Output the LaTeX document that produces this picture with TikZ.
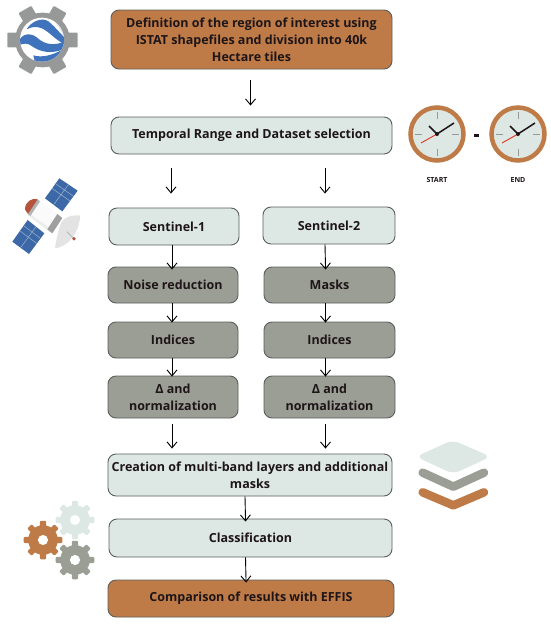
\documentclass[tikz,border=0pt]{standalone}
\usepackage{fontspec}
\setmainfont{Open Sans}
\usetikzlibrary{arrows.meta,calc}
\definecolor{rust}{HTML}{BF7B47}
\definecolor{pale}{HTML}{DDE7E3}
\definecolor{sage}{HTML}{9B9E94}
\definecolor{edge}{HTML}{5A5F5C}
\definecolor{ink}{HTML}{1D1518}
\definecolor{gearg}{HTML}{979898}
\definecolor{eblue}{HTML}{3F74BC}
\definecolor{panel}{HTML}{3D68A8}
\definecolor{capred}{HTML}{B5533C}
\newcommand{\mycog}[7]{% x,y,radius,teeth,colour,hole,tooth half-angle
  \begin{scope}[shift={(#1,#2)}]
    \fill[#5] (0,0) circle ({#3*0.76});
    \foreach \k in {1,...,#4}{
      \pgfmathsetmacro{\ang}{360/#4*\k}
      \fill[#5,rounded corners=1pt,rotate=\ang] ({-#7}:{#3*0.7}) -- ({-0.7*#7}:#3) -- ({0.7*#7}:#3) -- ({#7}:{#3*0.7}) -- cycle;
    }
    \fill[white] (0,0) circle ({#3*#6});
  \end{scope}}
\tikzset{
  flowbox/.style={draw=edge,line width=0.9pt,rounded corners=8pt,inner sep=0pt,align=center,font=\bfseries\fontsize{12.5}{17}\selectfont,text=ink},
  palebox/.style={flowbox,fill=pale},
  sagebox/.style={flowbox,fill=sage},
  rustbox/.style={flowbox,fill=rust},
  flowarrow/.style={draw=black,line width=0.9pt,-{Straight Barb[length=6pt,width=10pt]}},
}
\newcommand{\bx}[6]{\node[#2,minimum width={(#5-#3)*1pt},minimum height={(#6-#4)*1pt}] (#1) at ({(#3+#5)/2},{(#4+#6)/2})}
\begin{document}
\begin{tikzpicture}[x=1pt,y=-1pt]
\useasboundingbox (0,0) rectangle (550,624);
\bx{top}{rustbox}{111}{10}{392}{69} {Definition of the region of interest using\\ISTAT shapefiles and division into 40k\\Hectare tiles};
\bx{range}{palebox}{111}{117}{392}{154} {Temporal Range and Dataset selection};
\bx{sa}{palebox}{109}{208}{239}{245} {Sentinel-1};
\bx{sb}{palebox}{263}{207}{395}{244} {Sentinel-2};
\bx{noise}{sagebox}{108}{267}{238}{303} {Noise reduction};
\bx{masks}{sagebox}{264}{267}{395}{303} {Masks};
\bx{ia}{sagebox}{108}{322}{238}{358} {Indices};
\bx{ib}{sagebox}{264}{322}{395}{358} {Indices};
\bx{da}{sagebox}{108}{376}{238}{418} {Δ and\\normalization};
\bx{db}{sagebox}{264}{376}{395}{418} {Δ and\\normalization};
\bx{multi}{palebox}{108}{454}{392}{496} {Creation of multi-band layers and additional\\masks};
\bx{cls}{palebox}{109}{519}{392}{557} {Classification};
\bx{cmp}{rustbox}{108}{580}{394}{617} {Comparison of results with EFFIS};
\draw[flowarrow,shorten <=11pt,shorten >=11pt] ([xshift=-1pt]top.south) -- ([xshift=-1pt]range.north);
\draw[flowarrow,shorten <=14pt,shorten >=14pt] ([xshift=-3pt]range.south -| sa) -- ([xshift=-3pt]sa.north);
\draw[flowarrow,shorten <=14pt,shorten >=13pt] ([xshift=-4pt]range.south -| sb) -- ([xshift=-4pt]sb.north);
\draw[flowarrow,shorten >=-3pt] ([xshift=-2pt]sa.south) -- ([xshift=-1pt]noise.north);
\draw[flowarrow,shorten >=-3pt] ([xshift=-4pt]sb.south) -- ([xshift=-4pt]masks.north);
\draw[flowarrow,shorten >=-1pt] ([xshift=-1pt]noise.south) -- ([xshift=-1pt]ia.north);
\draw[flowarrow,shorten >=-1pt] ([xshift=-4pt]masks.south) -- ([xshift=-4pt]ib.north);
\draw[flowarrow,shorten >=-1pt] ([xshift=-1pt]ia.south) -- ([xshift=-1pt]da.north);
\draw[flowarrow,shorten >=-1pt] ([xshift=-4pt]ib.south) -- ([xshift=-4pt]db.north);
\draw[flowarrow,shorten <=6pt,shorten >=5pt] ([xshift=-1pt]da.south) -- ([xshift=-1pt]multi.north -| da);
\draw[flowarrow,shorten <=6pt,shorten >=5pt] ([xshift=-4pt]db.south) -- ([xshift=-4pt]multi.north -| db);
\draw[flowarrow,shorten >=-3pt] ([xshift=-5pt]multi.south) -- ([xshift=-5pt]cls.north);
\draw[flowarrow,shorten >=-3pt] ([xshift=-5pt]cls.south) -- ([xshift=-5pt]cmp.north);

% Earth Engine icon
\mycog{42.5}{40}{36}{6}{gearg}{0}{17}
\begin{scope}[scale=1/3]
  \fill[white] (126,119) circle (66);
  \begin{scope}
    \clip (126,119) circle (66);
    \fill[gray!25] (150,50) .. controls (178,78) and (192,105) .. (194,125) -- (200,40) -- cycle;
    \fill[eblue] (80,88) .. controls (92,66) and (125,50) .. (145,64) .. controls (165,80) and (180,100) .. (197,116) -- (192,132) .. controls (165,118) and (150,98) .. (128,86) .. controls (110,78) and (95,80) .. (80,88) -- cycle;
    \fill[eblue] (58,120) .. controls (72,96) and (98,100) .. (115,116) .. controls (135,134) and (165,138) .. (194,124) -- (194,146) .. controls (155,164) and (120,156) .. (95,138) .. controls (85,130) and (70,128) .. (58,136) -- cycle;
    \fill[eblue] (100,166) .. controls (125,174) and (160,166) .. (192,146) -- (186,166) .. controls (165,188) and (130,196) .. (104,184) -- cycle;
  \end{scope}
\end{scope}

% Clocks
\foreach \cx/\nm in {437/c1,518/c2}{
\begin{scope}[shift={(\cx,134)}]
  \node[circle,draw=rust,line width=4.5pt,fill=pale,minimum size=53pt,inner sep=0pt] (\nm) at (0,0) {};
  \foreach \a in {0,90,180,270}\draw[gearg,line width=0.8pt] (\a:15) -- (\a:22);
  \draw[red!60!rust,line width=0.9pt] (0,0) -- (-16,9);
  \draw[ink,line width=1.5pt] (0,0) -- (17,-11);
  \draw[ink,line width=1.5pt] (0,0) -- (-8,-8);
  \fill[ink] (0,0) circle (2);
\end{scope}}
\fill[ink] (474,134) rectangle (479,136.5);
\node[font=\bfseries\fontsize{7}{8}\selectfont,text=ink] (st) at (437,180) {START};
\node[font=\bfseries\fontsize{7}{8}\selectfont,text=ink] (en) at (518,180) {END};

% Satellite (coordinates of a 3x crop from (5,170))
\begin{scope}[shift={(5,170)},scale=1/3]
  \fill[panel] (163,25) -- (218,62) -- (172,124) -- (120,85) -- cycle;
  \fill[panel] (68,150) -- (118,190) -- (72,252) -- (22,215) -- cycle;
  \draw[pale!60!panel,line width=.5pt] (141,55) -- (195,93) (150,40) -- (204,78) (191,43) -- (146,104)
     (45,183) -- (95,220) (56,167) -- (106,205) (93,170) -- (47,233);
  \fill[gray!14] (100,90) -- (168,142) -- (136,188) -- (68,135) -- cycle;
  \fill[gray!4] (100,90) -- (160,136) -- (132,172) -- (70,128) -- cycle;
  \fill[gray!75] (157,132) -- (172,144) -- (142,190) -- (127,178) -- cycle;
  \fill[gray!60] (96,87) -- (105,94) -- (76,138) -- (66,130) -- cycle;
  \fill[capred] (60,118) .. controls (60,95) and (82,82) .. (98,88) -- (70,130) .. controls (66,128) and (62,124) .. (60,118) -- cycle;
  \fill[gray!22] (226,136) .. controls (195,135) and (172,142) .. (165,168) .. controls (158,190) and (152,215) .. (150,235) .. controls (190,230) and (222,190) .. (226,136) -- cycle;
  \draw[gray!60,line width=.7pt] (185,185) -- (207,206);
  \fill[capred] (207,206) circle (5.5);
\end{scope}

% Layers (coordinates of a 3x crop from (410,430))
\begin{scope}[shift={(410,430)},scale=1/3]
  \fill[pale,rounded corners=7pt] (18,80) -- (128,30) -- (242,80) -- (130,132) -- cycle;
  \draw[sage,line width=8.5pt,line cap=round,line join=round] (38,128) -- (130,170) -- (222,128);
  \draw[rust,line width=8.5pt,line cap=round,line join=round] (38,187) -- (130,226) -- (222,187);
\end{scope}

% Cogs
\mycog{75}{520}{19.5}{8}{pale}{0.26}{13}
\mycog{43}{540}{19.5}{8}{rust}{0.26}{13}
\mycog{75}{560}{19.5}{8}{sage}{0.26}{13}
\end{tikzpicture}
\end{document}
